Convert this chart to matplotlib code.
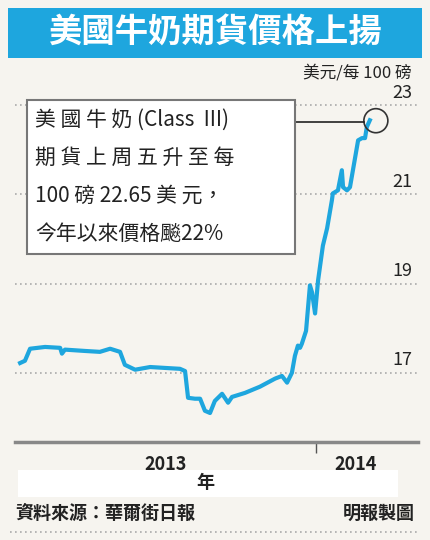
import matplotlib
matplotlib.use("Agg")
import matplotlib.pyplot as plt
from matplotlib.patches import Rectangle, Ellipse

plt.rcParams['font.family'] = ['Noto Sans CJK TC', 'DejaVu Sans']

t = [2013.017, 2013.033, 2013.050, 2013.100, 2013.150, 2013.156, 2013.166, 2013.233, 2013.282,
     2013.316, 2013.349, 2013.365, 2013.399, 2013.449, 2013.498, 2013.548, 2013.565, 2013.575,
     2013.598, 2013.615, 2013.631, 2013.648, 2013.664, 2013.688, 2013.708, 2013.721, 2013.764,
     2013.814, 2013.864, 2013.887, 2013.904, 2013.920, 2013.930, 2013.940, 2013.947, 2013.953,
     2013.967, 2013.980, 2013.987, 2013.997, 2014.007, 2014.023, 2014.037, 2014.053, 2014.056,
     2014.073, 2014.086, 2014.090, 2014.103, 2014.113, 2014.140, 2014.153, 2014.163, 2014.169,
     2014.179]
price = [17.22, 17.27, 17.54, 17.58, 17.56, 17.43, 17.52, 17.49, 17.47,
         17.54, 17.47, 17.18, 17.07, 17.13, 17.11, 17.09, 17.04, 16.44,
         16.42, 16.42, 16.15, 16.10, 16.37, 16.53, 16.33, 16.46, 16.55,
         16.69, 16.87, 16.93, 16.78, 17.00, 17.38, 17.61, 17.56, 17.65,
         17.94, 18.96, 18.80, 18.33, 19.07, 19.85, 20.24, 20.87, 21.02,
         21.09, 21.54, 21.16, 21.09, 21.16, 22.21, 22.26, 22.26, 22.51,
         22.66]
yticks = [17, 19, 21, 23]
year_labels = ["2013", "2014"]
year_pos = [2013.5, 2014.13]

W, H = 430, 540
fig = plt.figure(figsize=(4.3, 5.4), dpi=100)
fig.patch.set_facecolor('#f6f4ef')

def fx(x): return x / W
def fy(y): return 1 - y / H

fig.patches.append(Rectangle((fx(8), fy(58)), fx(414), 50 / H, transform=fig.transFigure,
                             facecolor='#1ea6de', edgecolor='none'))
fig.text(fx(215), fy(33), "美國牛奶期貨價格上揚", color='white', fontsize=24,
         fontweight='bold', ha='center', va='center')
fig.text(fx(412), fy(73), "美元/每 100 磅", fontsize=12, fontweight='medium',
         ha='right', va='center', color='#222')

ax = fig.add_axes([fx(15), fy(442), (418 - 15) / W, (442 - 85) / H])
ax.set_facecolor('#f6f4ef')
ax.set_xlim(2013.0, 2014.339)
ax.set_ylim(15.45, 23.45)
for s in ['top', 'right', 'left']:
    ax.spines[s].set_visible(False)
ax.spines['bottom'].set_color('#888')
ax.spines['bottom'].set_linewidth(2.5)
ax.set_yticks([])
ax.set_xticks([2014.0])
ax.set_xticklabels([])
ax.tick_params(axis='x', direction='out', length=8, color='#555', width=1)
for v in yticks:
    ax.axhline(v, color='#aaa', linestyle=(0, (1, 2)), linewidth=1.2, zorder=1)
    ax.text(2014.32, v + 0.08, str(v), ha='right', va='bottom', fontsize=13,
            fontweight='medium', color='#222')
ax.plot(t, price, color='#1ea6de', linewidth=3, zorder=3)
for lab, p in zip(year_labels, year_pos):
    ax.text(p, 15.45 - 0.3, lab, ha='center', va='top', fontsize=13, fontweight='bold',
            color='#222', clip_on=False)

ax.add_patch(Ellipse((2014.199, 22.65), 24 / 301, 24 / 44.5, facecolor='none',
                     edgecolor='#333', linewidth=1.2, zorder=4))
ax.plot([2013.930, 2014.159], [22.62, 22.62], color='#222', linewidth=1.2, zorder=4)

fig.patches.append(Rectangle((fx(27), fy(254)), 268 / W, 154 / H, transform=fig.transFigure,
                             facecolor='white', edgecolor='#777', linewidth=1.5, zorder=5))
lines = ["美 國 牛 奶 (Class  III)", "期 貨 上 周 五 升 至 每", "100 磅 22.65 美 元，", "今年以來價格飈22%"]
for i, l in enumerate(lines):
    fig.text(fx(35), fy(120 + i * 38), l, fontsize=15, fontweight='medium',
             ha='left', va='center', color='#222', zorder=6)

fig.patches.append(Rectangle((fx(18), fy(497)), 380 / W, 27 / H, transform=fig.transFigure,
                             facecolor='white', edgecolor='none'))
fig.text(fx(205), fy(483), "年", fontsize=13, fontweight='bold', ha='center', va='center', color='#222')
fig.text(fx(15), fy(513), "資料來源：華爾街日報", fontsize=13, fontweight='bold',
         ha='left', va='center', color='#222')
fig.text(fx(415), fy(513), "明報製圖", fontsize=13, fontweight='bold',
         ha='right', va='center', color='#222')
fig.lines.append(plt.Line2D([fx(10), fx(420)], [fy(532), fy(532)], transform=fig.transFigure,
                            color='#aaa', linestyle=(0, (1, 2)), linewidth=1.2))

fig.savefig("out.png", dpi=100, facecolor=fig.get_facecolor())
